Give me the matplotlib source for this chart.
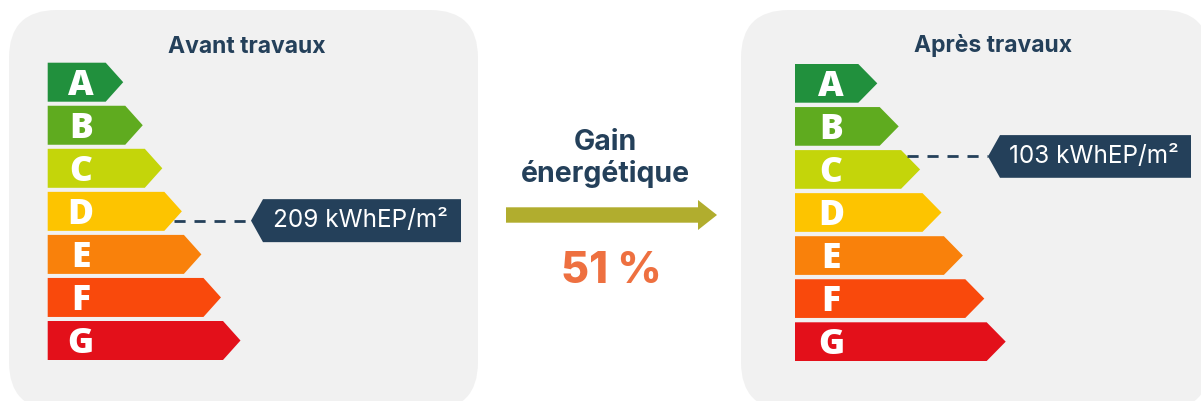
import matplotlib.pyplot as plt
from matplotlib.patches import Polygon, FancyBboxPatch

# DPE ladder
classes = ['A', 'B', 'C', 'D', 'E', 'F', 'G']
class_colors = ['#21903d', '#5fab1f', '#c4d50a', '#fdc400', '#f9810b', '#f9490c', '#e3101a']

# before / after works
panel_titles = ['Avant travaux', 'Après travaux']
consumption = [209, 103]          # kWhEP/m²
dpe_class = ['D', 'C']
unit = 'kWhEP/m²'
gain_pct = round((consumption[0] - consumption[1]) / consumption[0] * 100)

NAVY = '#24405a'
PANEL_BG = '#f1f1f1'
ARROW = '#b1ad2e'
ORANGE = '#ee7040'

# layout of each panel (pixels)
panels = [
    dict(box=(9, 10, 469, 400), x0=47.7, top=62.7, h=39, pitch=43.05, w0=58, dw=19.55, tip=17.5,
         letter_dx=33, title_x=247, title_y=53.3, label_dy=9.3, lab_x0=263, lab_x1=461, lab_h=43),
    dict(box=(741, 10, 469, 400), x0=795, top=64, h=38.7, pitch=43.05, w0=63.3, dw=21.4, tip=19,
         letter_dx=36, title_x=993, title_y=51.7, label_dy=-13, lab_x0=1000, lab_x1=1191, lab_h=42.7),
]

fig = plt.figure(figsize=(12.01, 4.01), dpi=100)
ax = fig.add_axes([0, 0, 1, 1])
ax.set_xlim(0, 1201)
ax.set_ylim(401, 0)
ax.axis('off')


def draw_panel(p, title, value, cls):
    bx, by, bw, bh = p['box']
    ax.add_patch(FancyBboxPatch((bx, by), bw, bh, boxstyle='round,pad=0,rounding_size=48',
                                fc=PANEL_BG, ec='none'))
    ax.text(p['title_x'], p['title_y'], title, ha='center', va='baseline',
            fontsize=16.5, fontweight='bold', color=NAVY, family='Inter')

    for i, (c, col) in enumerate(zip(classes, class_colors)):
        y0 = p['top'] + i * p['pitch']
        y1 = y0 + p['h']
        xb = p['x0'] + p['w0'] + i * p['dw']
        pts = [(p['x0'], y0), (xb, y0), (xb + p['tip'], (y0 + y1) / 2), (xb, y1), (p['x0'], y1)]
        ax.add_patch(Polygon(pts, closed=True, fc=col, ec='none'))
        ax.text(p['x0'] + p['letter_dx'], (y0 + y1) / 2 + 12.5, c, ha='center', va='baseline',
                fontsize=25.5, fontweight='heavy', color='white', family='Open Sans')

    # marker for the current class
    i = classes.index(cls)
    y0 = p['top'] + i * p['pitch']
    yc = y0 + p['h'] / 2
    xb = p['x0'] + p['w0'] + i * p['dw']
    ly = yc + p['label_dy']
    x_edge = xb + p['tip'] * (1 - abs(ly - yc) / (p['h'] / 2))
    notch = 12
    ax.plot([x_edge, p['lab_x0'] - notch], [ly, ly], color=NAVY, lw=2, dashes=(4, 3.2))
    hh = p['lab_h'] / 2
    ax.add_patch(Polygon([(p['lab_x0'] - notch, ly), (p['lab_x0'], ly - hh), (p['lab_x1'], ly - hh),
                          (p['lab_x1'], ly + hh), (p['lab_x0'], ly + hh)], closed=True, fc=NAVY, ec='none'))
    ax.text((p['lab_x0'] + p['lab_x1']) / 2 - 2, ly, f'{value} {unit}', ha='center', va='center',
            fontsize=17.5, color='white', family='Inter')


for p, t, v, c in zip(panels, panel_titles, consumption, dpe_class):
    draw_panel(p, t, v, c)

# central gain block
ax.text(605, 150, 'Gain', ha='center', va='baseline', fontsize=20.5, fontweight='bold',
        color=NAVY, family='Inter')
ax.text(605.5, 182, 'énergétique', ha='center', va='baseline', fontsize=20.5, fontweight='bold',
        color=NAVY, family='Inter')
ax.add_patch(Polygon([(506, 207.3), (698, 207.3), (698, 200), (717, 215), (698, 230),
                      (698, 222.7), (506, 222.7)], closed=True, fc=ARROW, ec='none'))
ax.text(611, 283, f'{gain_pct} %', ha='center', va='baseline', fontsize=31, fontweight='heavy',
        color=ORANGE, family='Inter')

fig.savefig('out.png', dpi=100)
